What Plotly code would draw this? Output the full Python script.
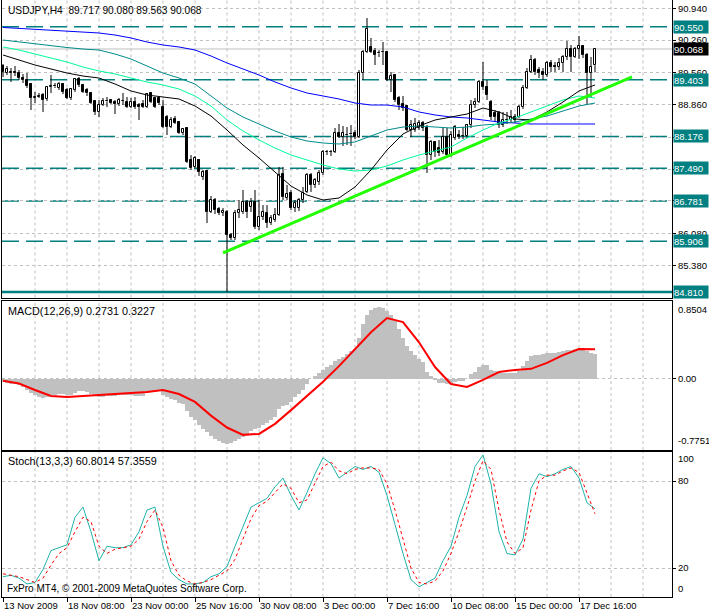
import plotly.graph_objects as go

# ---------------- data ----------------
header_text = "USDJPY,H4  89.717 90.080 89.563 90.068"
macd_text = "MACD(12,26,9) 0.2731 0.3227"
stoch_text = "Stoch(13,3,3) 60.8014 57.3559"
copyright_text = "FxPro MT4, \u00a9 2001-2009 MetaQuotes Software Corp."

bar_index = list(range(149))

opens = [89.700, 89.548, 89.548, 89.560, 89.548, 89.440, 89.397, 89.310, 89.008, 89.029,
         89.072, 88.986, 89.245, 89.267, 89.224, 89.310, 89.180, 89.008, 89.180, 89.418,
         89.289, 89.180, 89.116, 88.943, 88.705, 88.856, 88.943, 88.964, 88.921, 88.878,
         88.943, 88.921, 88.813, 88.921, 88.856, 88.878, 88.813, 89.116, 89.008, 89.008,
         88.813, 88.596, 88.380, 88.553, 88.488, 88.250, 88.358, 87.666, 87.515, 87.666,
         87.298, 87.428, 86.541, 86.800, 86.606, 86.519, 86.541, 86.043, 85.978, 86.519,
         86.541, 86.757, 86.649, 86.757, 86.216, 86.433, 86.519, 86.303, 86.368, 86.476,
         87.363, 86.844, 86.952, 86.627, 86.627, 86.800, 86.974, 87.341, 87.125, 87.190,
         87.385, 87.839, 87.845, 87.839, 88.250, 88.164, 88.207, 88.220, 88.250, 88.164,
         89.548, 90.002, 90.111, 90.024, 89.981, 90.002, 90.002, 89.397, 89.505, 89.008,
         88.878, 88.834, 88.315, 88.315, 88.358, 88.466, 88.358, 87.774, 88.056, 87.925,
         87.839, 88.164, 87.774, 88.142, 88.207, 88.185, 88.185, 88.423, 88.856, 88.921,
         89.354, 89.245, 88.921, 88.683, 88.683, 88.423, 88.531, 88.531, 88.596, 88.596,
         88.813, 89.224, 89.570, 89.830, 89.613, 89.570, 89.505, 89.765, 89.690, 89.678,
         89.765, 89.894, 90.067, 89.894, 90.067, 90.133, 89.938, 89.548, 89.717]
highs = [89.743, 89.700, 89.656, 89.700, 89.613, 89.527, 89.548, 89.332, 89.137, 89.116,
         89.116, 89.267, 89.505, 89.332, 89.354, 89.332, 89.224, 89.224, 89.440, 89.462,
         89.310, 89.224, 89.137, 88.964, 88.964, 89.008, 89.029, 88.986, 88.964, 89.008,
         89.116, 89.029, 89.008, 89.029, 88.899, 88.964, 89.116, 89.137, 89.029, 89.029,
         88.964, 88.640, 88.596, 88.618, 88.510, 88.358, 88.380, 87.774, 87.752, 87.687,
         87.450, 87.450, 86.887, 86.844, 86.649, 86.627, 86.584, 86.087, 86.584, 86.800,
         87.017, 86.800, 86.844, 87.017, 86.800, 86.692, 86.692, 86.476, 86.627, 87.515,
         87.515, 87.125, 87.017, 86.800, 86.844, 87.082, 87.385, 87.385, 87.276, 87.450,
         87.882, 87.882, 87.882, 88.358, 88.445, 88.402, 88.380, 88.423, 88.315, 89.613,
         90.046, 90.738, 90.306, 90.089, 90.046, 90.219, 90.024, 89.570, 89.527, 89.051,
         89.051, 88.856, 88.531, 88.575, 88.531, 88.510, 88.423, 88.099, 88.077, 88.099,
         88.358, 88.358, 88.293, 88.423, 88.315, 88.380, 88.445, 88.964, 89.008, 89.397,
         89.786, 89.397, 88.964, 88.748, 88.726, 88.705, 88.705, 88.748, 88.661, 88.856,
         89.289, 89.656, 89.938, 89.873, 89.678, 89.656, 89.808, 89.830, 89.786, 89.873,
         89.938, 90.241, 90.154, 90.111, 90.349, 90.154, 89.981, 89.894, 90.080]
lows = [89.462, 89.505, 89.354, 89.483, 89.397, 89.332, 89.224, 88.748, 88.899, 89.008,
        88.705, 88.943, 89.116, 89.224, 89.180, 89.094, 88.986, 88.964, 89.137, 89.245,
        89.116, 89.051, 88.878, 88.640, 88.596, 88.834, 88.813, 88.878, 88.661, 88.834,
        88.856, 88.791, 88.791, 88.770, 88.531, 88.791, 88.791, 88.899, 88.791, 88.856,
        88.358, 88.207, 88.358, 88.445, 88.229, 88.207, 87.601, 87.450, 87.493, 87.320,
        87.233, 86.303, 86.519, 86.497, 86.476, 86.454, 84.810, 85.935, 85.935, 86.411,
        86.497, 86.411, 86.541, 86.173, 86.151, 86.368, 86.195, 86.260, 86.325, 86.454,
        86.800, 86.800, 86.584, 86.541, 86.562, 86.735, 86.952, 86.974, 87.060, 87.125,
        87.341, 87.774, 87.752, 87.817, 88.142, 87.969, 87.990, 87.969, 88.120, 88.142,
        89.397, 89.981, 89.981, 89.721, 89.894, 89.721, 89.375, 89.137, 88.921, 88.748,
        88.726, 88.293, 88.164, 88.272, 88.315, 88.293, 87.385, 87.666, 87.731, 87.752,
        87.796, 87.709, 87.731, 88.099, 88.120, 88.120, 88.142, 88.358, 88.791, 88.899,
        89.180, 88.964, 88.531, 88.488, 88.358, 88.380, 88.445, 88.488, 88.466, 88.575,
        88.770, 89.202, 89.548, 89.505, 89.440, 89.397, 89.462, 89.570, 89.570, 89.613,
        89.570, 89.830, 89.570, 89.873, 89.851, 89.873, 88.856, 89.008, 89.563]
closes = [89.570, 89.635, 89.560, 89.548, 89.440, 89.397, 89.267, 89.008, 89.029, 89.051,
          88.964, 89.245, 89.267, 89.260, 89.310, 89.137, 89.008, 89.202, 89.418, 89.289,
          89.137, 89.116, 88.899, 88.705, 88.856, 88.943, 88.935, 88.899, 88.878, 88.964,
          88.950, 88.813, 88.921, 88.813, 88.813, 88.813, 89.094, 88.921, 88.813, 88.899,
          88.380, 88.380, 88.531, 88.466, 88.250, 88.337, 87.623, 87.493, 87.709, 87.406,
          87.406, 86.541, 86.800, 86.584, 86.519, 86.562, 86.043, 85.978, 86.519, 86.584,
          86.757, 86.541, 86.757, 86.216, 86.433, 86.541, 86.303, 86.411, 86.476, 87.341,
          86.865, 86.930, 86.627, 86.735, 86.800, 86.952, 87.341, 87.125, 87.233, 87.385,
          87.839, 87.845, 87.839, 88.250, 88.164, 88.250, 88.200, 88.229, 88.164, 89.548,
          90.002, 90.500, 90.002, 89.938, 89.975, 90.010, 89.397, 89.483, 88.964, 88.856,
          88.791, 88.315, 88.423, 88.445, 88.466, 88.358, 87.774, 88.056, 87.839, 87.817,
          88.164, 87.774, 88.207, 88.380, 88.164, 88.190, 88.423, 88.856, 88.921, 89.354,
          89.245, 89.072, 88.596, 88.596, 88.423, 88.531, 88.525, 88.596, 88.531, 88.813,
          89.224, 89.570, 89.830, 89.570, 89.548, 89.505, 89.765, 89.678, 89.685, 89.765,
          89.894, 90.067, 89.894, 90.067, 90.133, 89.938, 89.548, 89.678, 90.068]

ma_index = list(range(0, 149, 4))
ma_blue = [90.533, 90.511, 90.489, 90.468, 90.446, 90.425, 90.414, 90.370, 90.306, 90.219,
           90.154, 90.111, 90.046, 89.916, 89.765, 89.635, 89.505, 89.354, 89.224, 89.116,
           89.051, 88.986, 88.899, 88.856, 88.856, 88.813, 88.705, 88.640, 88.596, 88.575,
           88.531, 88.488, 88.466, 88.445, 88.445, 88.445, 88.445, 88.445]
ma_teal = [90.262, 90.219, 90.176, 90.133, 90.100, 90.067, 90.046, 89.959, 89.851, 89.700,
           89.548, 89.440, 89.310, 89.051, 88.791, 88.596, 88.445, 88.293, 88.164, 88.077,
           88.034, 88.012, 88.056, 88.185, 88.315, 88.380, 88.402, 88.380, 88.358, 88.380,
           88.423, 88.445, 88.488, 88.553, 88.618, 88.726, 88.834, 88.899]
ma_green = [90.111, 90.046, 89.959, 89.873, 89.786, 89.678, 89.592, 89.527, 89.440, 89.354,
            89.289, 89.202, 89.051, 88.834, 88.531, 88.293, 88.099, 87.925, 87.774, 87.666,
            87.558, 87.471, 87.428, 87.450, 87.536, 87.666, 87.774, 87.861, 87.947, 88.142,
            88.315, 88.466, 88.575, 88.705, 88.834, 88.964, 89.051, 89.008]
ma_black = [89.938, 89.830, 89.721, 89.635, 89.548, 89.483, 89.440, 89.310, 89.159, 89.072,
            89.029, 88.986, 88.834, 88.618, 88.315, 87.990, 87.709, 87.406, 87.103, 86.909,
            86.800, 86.844, 87.082, 87.450, 87.882, 88.229, 88.402, 88.531, 88.596, 88.661,
            88.791, 88.705, 88.553, 88.531, 88.705, 88.921, 89.159, 89.289]

macd_hist = [-0.03, -0.04, -0.05, -0.06, -0.07, -0.09,
             -0.12, -0.15, -0.18, -0.2, -0.21,
             -0.2, -0.18, -0.17, -0.16,
             -0.16, -0.17, -0.17, -0.15, -0.13, -0.13,
             -0.14, -0.16, -0.19, -0.2, -0.2, -0.19, -0.19, -0.19, -0.18, -0.18,
             -0.18, -0.18, -0.19, -0.19, -0.19, -0.15, -0.13, -0.13, -0.13,
             -0.17, -0.2, -0.22, -0.23, -0.26, -0.27,
             -0.35, -0.42, -0.45, -0.5, -0.55,
             -0.58, -0.62, -0.65, -0.68, -0.7, -0.71, -0.7, -0.68, -0.66, -0.63,
             -0.6, -0.57, -0.55, -0.54, -0.5, -0.48, -0.45, -0.42,
             -0.33, -0.3, -0.28, -0.25, -0.2, -0.16, -0.12,
             -0.05, 0.0, 0.03, 0.06, 0.1, 0.13, 0.15,
             0.2, 0.22, 0.24, 0.27, 0.3, 0.33,
             0.45, 0.6, 0.7, 0.75, 0.77, 0.78, 0.77, 0.74, 0.7,
             0.63, 0.54, 0.45, 0.36,
             0.3, 0.26, 0.22, 0.18, 0.08,
             0.03, -0.01, -0.04, -0.04, -0.06, -0.05,
             -0.03, -0.02, -0.02, 0.0,
             0.05, 0.08, 0.13, 0.15, 0.15,
             0.1, 0.09, 0.07, 0.07, 0.07, 0.07, 0.07, 0.09,
             0.14, 0.2, 0.25, 0.26, 0.26,
             0.27, 0.28, 0.28, 0.28, 0.29, 0.3, 0.32,
             0.32, 0.33, 0.34, 0.34, 0.3, 0.28, 0.2731]
macd_signal = [-0.02, -0.05, -0.12, -0.185, -0.196, -0.185, -0.175, -0.164, -0.153, -0.142,
               -0.12, -0.164, -0.25, -0.40, -0.53, -0.61, -0.60, -0.49, -0.34, -0.185,
               -0.03, 0.14, 0.32, 0.51, 0.665, 0.62, 0.40, 0.13, -0.055, -0.087,
               -0.01, 0.076, 0.098, 0.11, 0.175, 0.26, 0.327, 0.3227]

stoch_index = list(range(0, 149, 2))
stoch_k = [14, 15, 13, 9, 10, 19, 32, 34, 36, 55,
           62, 45, 25, 35, 34, 34, 36, 45, 60, 62,
           35, 17, 12, 9, 9, 10, 14, 16, 21, 35,
           48, 62, 65, 68, 76, 82, 70, 60, 72, 85,
           96, 92, 82, 86, 90, 88, 90, 86, 70, 50,
           30, 12, 7, 10, 13, 25, 35, 55, 70, 90,
           98, 78, 45, 30, 29, 40, 75, 85, 83, 85,
           88, 90, 82, 65, 60.8014]
stoch_d = [16, 15, 14, 12, 10, 13, 22, 30, 34, 45,
           55, 52, 35, 30, 33, 34, 35, 40, 52, 60,
           48, 25, 15, 11, 9, 10, 12, 15, 18, 26,
           40, 54, 63, 66, 72, 78, 75, 65, 67, 78,
           90, 93, 87, 85, 88, 89, 89, 88, 78, 60,
           40, 20, 10, 9, 11, 18, 30, 45, 62, 80,
           94, 88, 60, 38, 30, 34, 60, 80, 84, 84,
           87, 89, 86, 72, 57.3559]

level_prices = [90.550, 89.403, 88.176, 87.490, 86.781, 85.906]
support_price = 84.810
bid_price = 90.068
trend_x = [55, 157.25]
trend_y = [85.654, 89.462]

price_ticks = [90.94, 90.26, 89.56, 88.86, 88.16, 87.46, 86.78, 86.08, 85.38]
price_tick_text = ["90.940", "90.260", "89.560", "88.860", "", "", "", "86.080", "85.380"]
time_tick_index = [0, 16, 32, 48, 64, 80, 96, 112, 128, 144]
time_tick_text = ["13 Nov 2009", "18 Nov 08:00", "23 Nov 00:00", "25 Nov 16:00",
                  "30 Nov 08:00", "3 Dec 00:00", "7 Dec 16:00", "10 Dec 08:00",
                  "15 Dec 00:00", "17 Dec 16:00"]
grid_index = list(range(8, 161, 8))

# ---------------- styles ----------------
FONT = "Liberation Sans, Arial, sans-serif"
FS = 9.5
GRID = "#C0C0C0"
TEAL = "#008080"
XR = [-0.25, 167.25]

fig = go.Figure()

# candle bodies
up = [i for i in bar_index if closes[i] >= opens[i]]
dn = [i for i in bar_index if closes[i] < opens[i]]
fig.add_trace(go.Bar(x=up, y=[closes[i] - opens[i] for i in up], base=[opens[i] for i in up],
                     width=0.5, marker=dict(color="white", line=dict(color="black", width=1)),
                     xaxis="x", yaxis="y", hoverinfo="skip"))
fig.add_trace(go.Bar(x=dn, y=[opens[i] - closes[i] for i in dn], base=[closes[i] for i in dn],
                     width=0.5, marker=dict(color="black", line=dict(color="black", width=1)),
                     xaxis="x", yaxis="y", hoverinfo="skip"))
# wicks
wx, wy = [], []
for i in bar_index:
    top = max(opens[i], closes[i])
    bot = min(opens[i], closes[i])
    wx += [i, i, None, i, i, None]
    wy += [highs[i], top, None, bot, lows[i], None]
fig.add_trace(go.Scatter(x=wx, y=wy, mode="lines", line=dict(color="black", width=1),
                         xaxis="x", yaxis="y", hoverinfo="skip"))

# moving averages
for vals, col in [(ma_blue, "#0000FF"), (ma_teal, "#008B8B"), (ma_green, "#00FA9A"), (ma_black, "black")]:
    fig.add_trace(go.Scatter(x=ma_index, y=vals, mode="lines", line=dict(color=col, width=1),
                             xaxis="x", yaxis="y", hoverinfo="skip"))
# trend line
fig.add_trace(go.Scatter(x=trend_x, y=trend_y, mode="lines", line=dict(color="#22FF00", width=3),
                         xaxis="x", yaxis="y", hoverinfo="skip"))

# MACD
fig.add_trace(go.Bar(x=bar_index, y=macd_hist, width=1.0, marker=dict(color="#C0C0C0", line=dict(width=0)),
                     xaxis="x2", yaxis="y2", hoverinfo="skip"))
fig.add_trace(go.Scatter(x=ma_index, y=macd_signal, mode="lines", line=dict(color="#FF0000", width=2),
                         xaxis="x2", yaxis="y2", hoverinfo="skip"))

# Stochastic
fig.add_trace(go.Scatter(x=stoch_index, y=stoch_k, mode="lines", line=dict(color="#20B2AA", width=1),
                         xaxis="x3", yaxis="y3", hoverinfo="skip"))
fig.add_trace(go.Scatter(x=stoch_index, y=stoch_d, mode="lines",
                         line=dict(color="#FF0000", width=1, dash="3px,3px"),
                         xaxis="x3", yaxis="y3", hoverinfo="skip"))

shapes = []
# vertical grid in all panels
for xr, yr in [("x", "y domain"), ("x2", "y2 domain"), ("x3", "y3 domain")]:
    for g in grid_index:
        shapes.append(dict(type="line", xref=xr, yref=yr, x0=g, x1=g, y0=0, y1=1,
                           line=dict(color=GRID, width=1, dash="3px,3px"), layer="below"))
# horizontal levels
for p in level_prices:
    shapes.append(dict(type="line", xref="x domain", yref="y", x0=0, x1=1, y0=p, y1=p,
                       line=dict(color=TEAL, width=1.5, dash="17px,7px"), layer="below"))
shapes.append(dict(type="line", xref="x domain", yref="y", x0=0, x1=1, y0=support_price, y1=support_price,
                   line=dict(color=TEAL, width=2.5), layer="below"))
shapes.append(dict(type="line", xref="x domain", yref="y", x0=0, x1=1, y0=bid_price, y1=bid_price,
                   line=dict(color="#C0C0C0", width=1), layer="below"))

annotations = []
def box(y, text, bg, yref="y"):
    annotations.append(dict(x=1, xref="paper", xanchor="left", xshift=1, y=y, yref=yref,
                            yanchor="middle", text=text, showarrow=False, bgcolor=bg,
                            font=dict(family=FONT, size=FS, color="white"), borderpad=0,
                            width=34, height=12, align="left"))
for p in level_prices + [support_price]:
    box(p, f"{p:.3f}", TEAL)
box(bid_price, f"{bid_price:.3f}", "black")

def label(x, y, text, xanchor="left", yanchor="middle", xref="paper", yref="paper",
          xshift=0, yshift=0, size=FS):
    annotations.append(dict(x=x, y=y, xref=xref, yref=yref, xanchor=xanchor, yanchor=yanchor,
                            text=text, showarrow=False, xshift=xshift, yshift=yshift,
                            font=dict(family=FONT, size=size, color="black")))

label(0.006, (597 - 10) / 597, header_text, size=10.2)
label(0.006, (597 - 311) / 597, macd_text, size=10.8)
label(0.006, (597 - 461) / 597, stoch_text, size=10.8)
label(0.004, (597 - 588) / 597, copyright_text, size=10)
# edge labels of the sub-windows
label(1, 0.8504, "0.8504", yref="y2", yanchor="top", xshift=4, yshift=-1)
label(1, -0.7751, "-0.7751", yref="y2", yanchor="bottom", xshift=4, yshift=2)
label(1, 100, "100", yref="y3", yanchor="top", xshift=4, yshift=1)
label(1, 0, "0", yref="y3", yanchor="bottom", xshift=4, yshift=1)

axis_common = dict(showgrid=False, zeroline=False, showline=True, linecolor="black", linewidth=1,
                   range=XR, tickfont=dict(family=FONT, size=FS, color="black"))
yfont = dict(family=FONT, size=FS, color="black")

H = 597.0
fig.update_layout(
    width=709, height=614,
    margin=dict(l=2, r=37, t=0, b=17, pad=0),
    paper_bgcolor="white", plot_bgcolor="white",
    showlegend=False, barmode="overlay", bargap=0,
    font=dict(family=FONT, size=FS, color="black"),
    xaxis=dict(domain=[0, 1], anchor="y", showticklabels=False, ticks="", mirror=False, **axis_common),
    xaxis2=dict(domain=[0, 1], anchor="y2", showticklabels=False, ticks="", mirror=True, **axis_common),
    xaxis3=dict(domain=[0, 1], anchor="y3", tickmode="array", tickvals=time_tick_index, ticktext=time_tick_text,
                ticks="outside", ticklen=4, tickcolor="black", ticklabelposition="outside right",
                tickangle=0, mirror=True, **axis_common),
    yaxis=dict(domain=[(H - 297.5) / H, 1], anchor="x", side="right", range=[84.691, 91.1277],
               tickmode="array", tickvals=price_ticks, ticktext=price_tick_text,
               ticks="outside", ticklen=3, tickcolor="black", tickfont=yfont,
               showgrid=True, gridcolor=GRID, griddash="3px,3px", zeroline=False,
               showline=True, linecolor="black", mirror=True),
    yaxis2=dict(domain=[(H - 450) / H, (H - 301) / H], anchor="x2", side="right", range=[-0.7751, 0.8504],
                tickmode="array", tickvals=[0], ticktext=["0.00"],
                ticks="outside", ticklen=3, tickcolor="black", tickfont=yfont,
                showgrid=True, gridcolor=GRID, griddash="3px,3px", zeroline=False,
                showline=True, linecolor="black", mirror=True),
    yaxis3=dict(domain=[0, (H - 452) / H], anchor="x3", side="right", range=[0, 100],
                tickmode="array", tickvals=[80, 20], ticktext=["80", "20"],
                ticks="outside", ticklen=3, tickcolor="black", tickfont=yfont,
                showgrid=True, gridcolor=GRID, griddash="3px,3px", zeroline=False,
                showline=True, linecolor="black", mirror=True),
    shapes=shapes,
    annotations=annotations,
)

fig.write_html("out.html", config={"displayModeBar": False},
               post_script="document.body.style.margin='0';document.body.style.overflow='hidden';")
